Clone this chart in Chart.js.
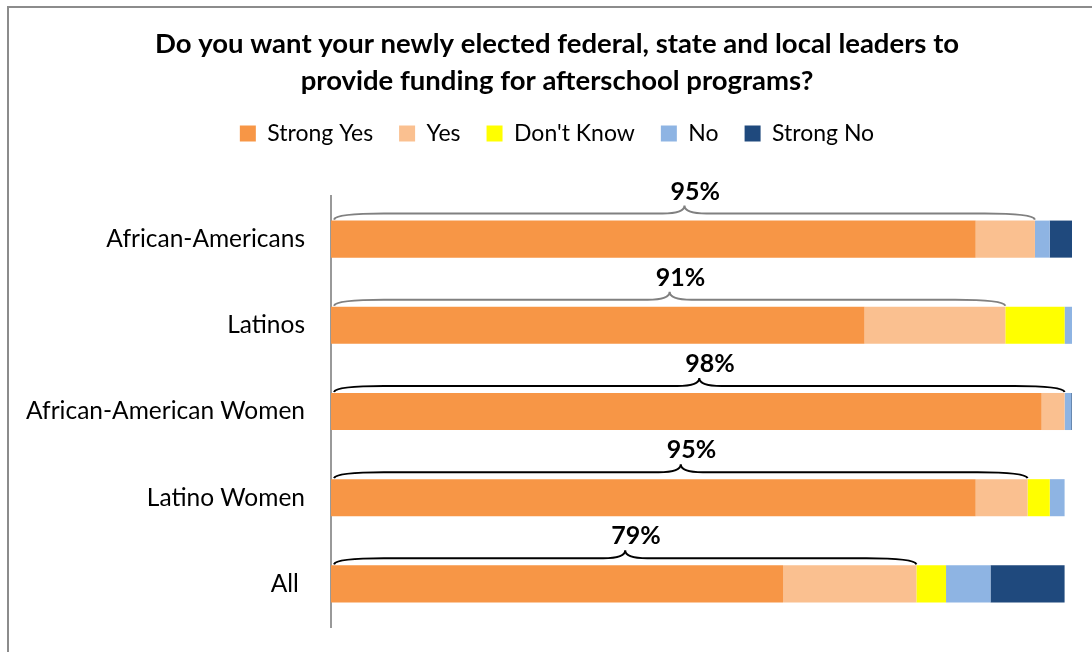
<!DOCTYPE html>
<html>
<head>
<meta charset="utf-8">
<title>Afterschool funding</title>
<script src="https://cdn.jsdelivr.net/npm/chart.js@4.4.1/dist/chart.umd.min.js"></script>
<style>
  html, body { margin: 0; padding: 0; background: #fff; }
  #wrap { position: relative; width: 1092px; height: 652px; overflow: hidden; }
  #frame { position: absolute; left: 7px; top: 6px; width: 1200px; height: 800px;
           border: 2px solid #8c8c8c; box-sizing: border-box; }
  canvas { position: absolute; left: 0; top: 0; }
</style>
</head>
<body>
<div id="wrap">
  <div id="frame"></div>
  <canvas id="chart" width="1092" height="652"></canvas>
</div>
<script>
var categories = ['African-Americans', 'Latinos', 'African-American Women', 'Latino Women', 'All '];
var strongYes = [87, 72, 95.9, 87, 61];
var yes = [8, 19, 3.1, 7, 18];
var dontKnow = [0, 8, 0, 3, 4];
var no = [2, 1, 0.9, 2, 6];
var strongNo = [3, 0, 0.4, 0, 10];
var totalYesLabels = ['95%', '91%', '98%', '95%', '79%'];

var FONT = 'Lato, "Open Sans", sans-serif';

// curly brace over the yes part of each bar, with the total on top
var bracePlugin = {
    id: 'braces',
    afterDatasetsDraw: function(chart) {
        var ctx = chart.ctx;
        var xs = chart.scales.x;
        var meta = chart.getDatasetMeta(0);
        var colors = ['#808080', '#808080', '#000', '#000', '#000'];
        meta.data.forEach(function(bar, i) {
            var top = bar.y - bar.height / 2;
            var x0 = xs.getPixelForValue(0) + 3;
            var x1 = xs.getPixelForValue(strongYes[i] + yes[i]);
            var xm = (x0 + x1) / 2;
            var yb = top - 1;
            var yl = top - 7;
            var yp = top - 15;
            ctx.save();
            ctx.strokeStyle = colors[i];
            ctx.lineWidth = 2;
            ctx.beginPath();
            ctx.moveTo(x0, yb);
            ctx.quadraticCurveTo(x0 + 2, yl, x0 + 50, yl);
            ctx.lineTo(xm - 22, yl);
            ctx.quadraticCurveTo(xm, yl, xm, yp);
            ctx.quadraticCurveTo(xm, yl, xm + 22, yl);
            ctx.lineTo(x1 - 50, yl);
            ctx.quadraticCurveTo(x1 - 2, yl, x1, yb);
            ctx.stroke();
            ctx.fillStyle = '#000';
            ctx.font = 'bold 25px ' + FONT;
            ctx.textAlign = 'left';
            ctx.textBaseline = 'middle';
            ctx.fillText(totalYesLabels[i], xm - 14, top - 29);
            ctx.restore();
        });
    }
};

// extra room below the legend
var legendSpace = {
    id: 'legendSpace',
    beforeInit: function(chart) {
        if (!chart.legend) return;
        var fit = chart.legend.fit;
        chart.legend.fit = function() {
            fit.bind(chart.legend)();
            this.height += 41;
        };
    }
};

function ds(label, data, color) {
    return {
        label: label,
        data: data,
        backgroundColor: color,
        borderWidth: 0,
        barPercentage: 0.43,
        categoryPercentage: 1
    };
}

new Chart(document.getElementById('chart'), {
    type: 'bar',
    data: {
        labels: categories,
        datasets: [
            ds('Strong Yes', strongYes, '#F79646'),
            ds('Yes', yes, '#FAC090'),
            ds("Don't Know", dontKnow, '#FFFF00'),
            ds('No', no, '#8EB4E3'),
            ds('Strong No', strongNo, '#1F497D')
        ]
    },
    options: {
        indexAxis: 'y',
        responsive: false,
        animation: false,
        layout: { padding: { left: 42, right: 20, top: 0, bottom: 25 } },
        scales: {
            x: {
                stacked: true,
                display: false,
                min: 0,
                max: 100
            },
            y: {
                stacked: true,
                grid: { display: false, drawTicks: false },
                border: { display: true, color: '#999', width: 2 },
                ticks: {
                    color: '#000',
                    padding: 26,
                    font: { family: FONT, size: 24.5 }
                },
                afterFit: function(scale) {
                    scale.width = 289;
                    scale.paddingTop = 0;
                    scale.paddingBottom = 0;
                    // long labels reach past the left padding, so don't clip them
                    scale._computeLabelArea = function() { return null; };
                }
            }
        },
        plugins: {
            title: {
                display: true,
                text: ['Do you want your newly elected federal, state and local leaders to',
                       'provide funding for afterschool programs?'],
                color: '#000',
                font: { family: FONT, size: 27.5, weight: 'bold', lineHeight: 37 / 27.5 },
                padding: { top: 26, bottom: -4 }
            },
            legend: {
                position: 'top',
                labels: {
                    color: '#000',
                    boxWidth: 16,
                    boxHeight: 16,
                    padding: 26,
                    font: { family: FONT, size: 23 }
                }
            },
            tooltip: { enabled: false }
        }
    },
    plugins: [bracePlugin, legendSpace]
});
</script>
</body>
</html>
